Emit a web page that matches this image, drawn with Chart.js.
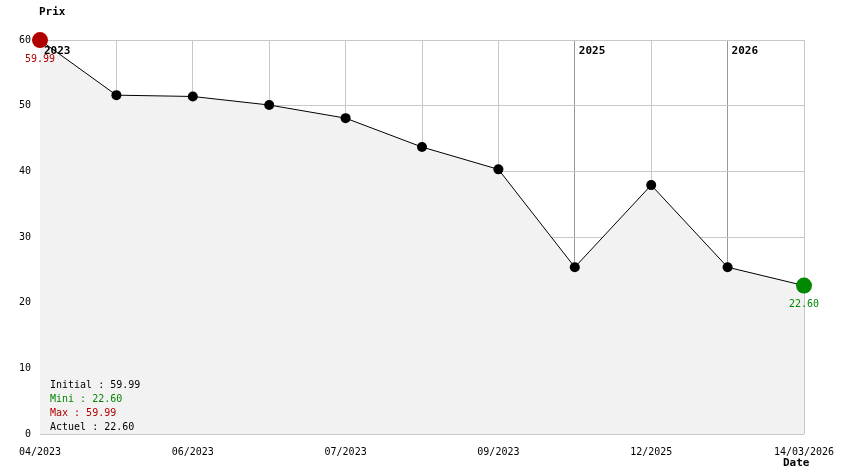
<!DOCTYPE html>
<html>
<head>
<meta charset="utf-8">
<script src="https://cdn.jsdelivr.net/npm/chart.js@4"></script>
<style>
  html, body { margin: 0; padding: 0; background: #fff; }
  #wrap { width: 844px; height: 474px; }
</style>
</head>
<body>
<div id="wrap"><canvas id="priceChart"></canvas></div>
<script>
// Price history data
const dateLabels = ['04/2023', '', '06/2023', '', '07/2023', '', '09/2023', '', '12/2025', '', '14/03/2026'];
const prices = [59.99, 51.6, 51.4, 50.1, 48.1, 43.7, 40.3, 25.4, 37.9, 25.4, 22.60];
const yearIndexes = [0, 7, 9];
const yearLabels = ['2023', '2025', '2026'];
const yTicks = [0, 10, 20, 30, 40, 50, 60];

const MONO = '"DejaVu Sans Mono", "Liberation Mono", monospace';
const maxIdx = prices.indexOf(Math.max(...prices));
const minIdx = prices.indexOf(Math.min(...prices));
const lastIdx = prices.length - 1;

// Extra texts: axis titles, year markers, min/max labels and the summary box
const annotations = {
    id: 'annotations',
    afterDatasetsDraw(chart) {
        const ctx = chart.ctx;
        const area = chart.chartArea;
        const x = chart.scales.x;
        const y = chart.scales.y;
        ctx.save();
        ctx.textBaseline = 'middle';

        ctx.font = 'bold 11px ' + MONO;
        ctx.fillStyle = '#000';
        ctx.textAlign = 'left';
        ctx.fillText('Prix', 39, 12);
        ctx.fillText('Date', 783, 463);
        yearIndexes.forEach((idx, i) => {
            ctx.fillText(yearLabels[i], x.getPixelForValue(idx) + 4, area.top + 11);
        });

        ctx.font = '10px ' + MONO;
        ctx.textAlign = 'center';
        ctx.fillStyle = '#b00000';
        ctx.fillText(prices[maxIdx].toFixed(2), x.getPixelForValue(maxIdx), y.getPixelForValue(prices[maxIdx]) + 19);
        ctx.fillStyle = '#008800';
        ctx.fillText(prices[minIdx].toFixed(2), x.getPixelForValue(minIdx), y.getPixelForValue(prices[minIdx]) + 19);

        ctx.textAlign = 'left';
        const lines = [
            ['Initial : ' + prices[0].toFixed(2), '#000'],
            ['Mini : ' + prices[minIdx].toFixed(2), '#008800'],
            ['Max : ' + prices[maxIdx].toFixed(2), '#b00000'],
            ['Actuel : ' + prices[lastIdx].toFixed(2), '#000']
        ];
        lines.forEach((l, i) => {
            ctx.fillStyle = l[1];
            ctx.fillText(l[0], area.left + 10, area.bottom - 49 + i * 14);
        });
        ctx.restore();
    }
};

const chart = new Chart(document.getElementById('priceChart').getContext('2d'), {
    type: 'line',
    data: {
        labels: dateLabels,
        datasets: [{
            data: prices,
            borderColor: '#000',
            borderWidth: 1,
            backgroundColor: '#f2f2f2',
            fill: 'origin',
            tension: 0,
            clip: false,
            pointRadius: prices.map((v, i) => (i === maxIdx || i === minIdx) ? 8 : 5),
            pointBackgroundColor: prices.map((v, i) => i === maxIdx ? '#b00000' : (i === minIdx ? '#008800' : '#000')),
            pointBorderWidth: 0,
            pointHoverRadius: 5
        }]
    },
    options: {
        responsive: true,
        maintainAspectRatio: false,
        animation: false,
        layout: { padding: { top: 40, right: 40, left: 0, bottom: 0 } },
        plugins: {
            legend: { display: false },
            tooltip: { enabled: false }
        },
        scales: {
            x: {
                type: 'category',
                offset: false,
                border: { display: false },
                grid: {
                    color: c => yearIndexes.includes(c.index) && c.index > 0 ? '#999999' : '#c8c8c8',
                    lineWidth: 1,
                    drawTicks: false
                },
                ticks: {
                    autoSkip: false,
                    maxRotation: 0,
                    color: '#000',
                    font: { family: MONO, size: 10 },
                    padding: 12
                },
                afterFit: s => { s.height = 40; s.paddingLeft = 0; s.paddingRight = 0; }
            },
            y: {
                min: 0,
                max: 60,
                border: { display: false },
                grid: { color: '#c8c8c8', lineWidth: 1, drawTicks: false },
                ticks: {
                    stepSize: 10,
                    color: '#000',
                    font: { family: MONO, size: 10 },
                    padding: 9,
                    callback: v => yTicks.includes(v) ? v : ''
                },
                afterFit: s => { s.width = 40; }
            }
        }
    },
    plugins: [annotations]
});
</script>
</body>
</html>
